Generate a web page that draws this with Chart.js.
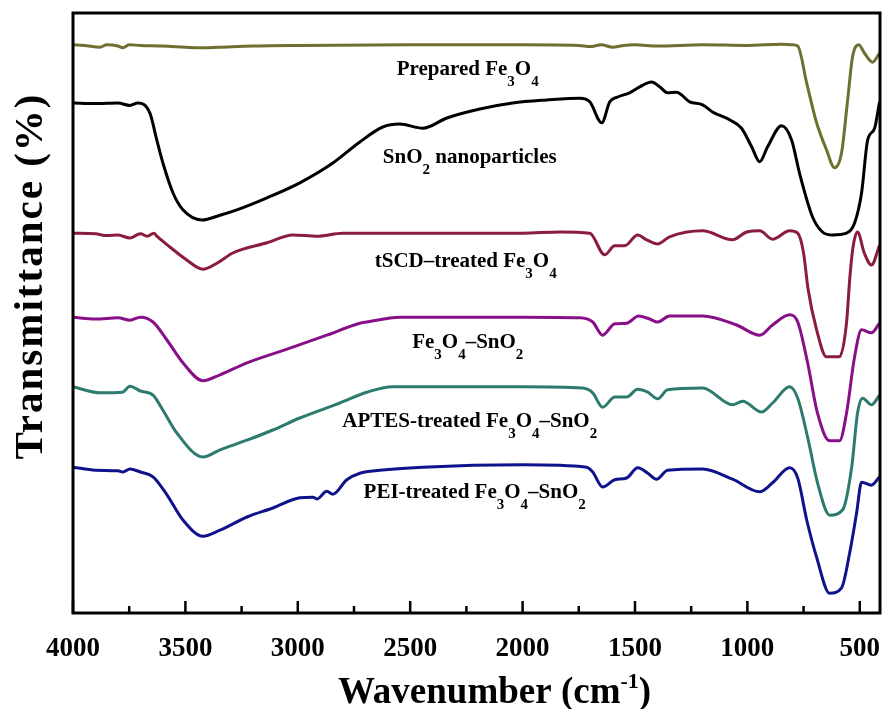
<!DOCTYPE html>
<html>
<head>
<meta charset="utf-8">
<script src="https://cdn.jsdelivr.net/npm/chart.js@4.4.1/dist/chart.umd.min.js"></script>
<style>
  html, body { margin: 0; padding: 0; background: #fff; }
  #wrap { width: 882px; height: 709px; }
</style>
</head>
<body>
<div id="wrap"><canvas id="ftir"></canvas></div>
<script>
// FTIR spectra, wavenumber (cm-1) vs transmittance (a.u., curves offset)
var preparedWn = [4000,3950,3880,3850,3800,3778,3750,3700,3600,3500,3435,3350,3200,3000,2500,2000,1750,1700,1650,1600,1550,1500,1400,1200,1000,850,800,776,736,692,648,612,581,554,532,505,479,443,412];
var preparedT  = [94.7,94.6,94.3,94.7,94.5,94.2,94.7,94.6,94.5,94.3,94.2,94.3,94.5,94.6,94.7,94.7,94.6,94.4,94.7,94.3,94.6,94.7,94.5,94.7,94.6,94.8,94.7,94.5,88.3,81.7,77.2,74.2,76.7,85.5,92.7,94.7,93.3,91.8,93.3];

var snoWn = [4000,3900,3800,3747,3711,3658,3627,3600,3555,3511,3426,3346,3271,3137,2991,2844,2724,2622,2546,2444,2337,2190,2044,1893,1746,1701,1648,1612,1577,1524,1479,1426,1390,1355,1315,1257,1199,1155,1079,1026,981,945,910,848,803,768,710,666,621,559,523,492,465,434,412];
var snoT  = [85.0,84.9,85.0,84.6,85.0,83.3,78.8,75.0,70.0,67.2,65.5,66.3,67.2,69.2,71.7,75.0,78.5,81.0,81.5,80.8,82.5,84.0,85.0,85.5,85.8,85.2,81.7,85.2,86.0,86.7,87.7,88.5,87.7,86.7,86.8,85.2,84.7,83.5,82.2,80.8,77.7,75.2,77.7,81.2,78.8,73.3,66.0,63.5,63.0,63.3,65.0,70.0,78.8,80.8,85.2];

var tscdWn = [4000,3900,3850,3800,3747,3700,3670,3640,3627,3569,3500,3422,3360,3289,3137,3022,2915,2800,2500,2000,1835,1701,1635,1590,1546,1488,1448,1399,1346,1199,1066,1003,945,888,812,776,750,730,692,648,620,590,559,545,530,510,480,448,412];
var tscdT  = [63.3,63.2,62.9,63.0,62.5,63.2,62.8,63.3,62.8,61.0,59.0,57.3,58.3,60.0,61.7,63.0,62.8,63.3,63.3,63.3,63.5,63.3,59.7,61.2,61.2,63.0,62.2,61.5,62.7,63.7,62.2,63.5,63.7,62.3,63.7,63.3,60.0,54.0,47.2,42.7,42.7,42.7,48.3,55.5,61.0,63.5,60.0,58.0,61.3];

var fesnWn = [4000,3900,3800,3747,3700,3644,3582,3511,3422,3346,3226,3022,2871,2724,2693,2546,2000,1746,1688,1644,1590,1537,1484,1435,1399,1346,1199,1048,945,888,812,776,732,688,634,590,559,523,492,448,412];
var fesnT  = [49.3,49.0,49.2,48.8,49.3,48.5,45.5,41.7,38.7,39.7,41.7,44.3,46.3,48.3,48.5,49.3,49.3,49.2,48.5,46.3,48.2,48.3,49.5,49.0,48.5,49.5,49.5,48.0,46.3,48.0,49.7,48.5,41.7,33.3,28.7,28.7,33.3,42.7,47.2,46.7,48.3];

var aptesWn = [4000,3880,3780,3747,3700,3644,3600,3538,3422,3346,3226,3111,2991,2871,2813,2693,2577,2000,1733,1688,1644,1590,1537,1488,1443,1399,1355,1199,1066,1021,937,888,812,776,732,688,634,576,536,510,487,448,412];
var aptesT  = [37.7,36.7,36.8,37.8,37.0,36.3,33.8,30.0,26.0,27.2,28.8,30.5,32.5,34.2,35.0,36.8,37.7,37.7,37.5,36.7,34.3,36.0,36.0,37.3,36.8,35.7,37.2,37.5,34.7,35.3,33.5,35.0,37.7,35.8,29.3,21.7,16.3,17.2,24.3,33.3,35.8,34.7,36.3];

var peiWn = [4000,3900,3800,3778,3747,3700,3644,3582,3511,3422,3346,3226,3111,2991,2933,2915,2871,2844,2782,2724,2635,2444,2000,1715,1688,1644,1590,1537,1488,1443,1404,1355,1199,1066,945,888,812,776,736,692,634,581,545,514,492,448,412];
var peiT  = [24.3,23.8,23.7,23.5,24.0,23.5,22.7,19.7,15.5,12.8,13.8,16.0,17.5,19.2,19.3,19.0,20.3,19.8,22.2,23.3,23.8,24.3,24.7,24.3,23.5,21.0,22.2,22.5,24.2,23.3,22.3,23.8,24.0,22.3,20.2,21.7,24.2,22.5,15.5,9.3,3.3,4.2,10.0,16.7,21.8,21.3,22.7];

// curve labels (_{..} = subscript), placed in data units
var labelText = ['Prepared Fe_{3}O_{4}', 'SnO_{2} nanoparticles', 'tSCD\u2013treated Fe_{3}O_{4}', 'Fe_{3}O_{4}\u2013SnO_{2}', 'APTES-treated Fe_{3}O_{4}\u2013SnO_{2}', 'PEI-treated Fe_{3}O_{4}\u2013SnO_{2}'];
var labelWn = [2244, 2235, 2253, 2244, 2235, 2213];
var labelT = [89.7, 75.0, 57.7, 44.2, 31.0, 19.2];

var tickVals = [4000,3750,3500,3250,3000,2750,2500,2250,2000,1750,1500,1250,1000,750,500];

var FONT = '"Liberation Serif", "Times New Roman", serif';

function pts(xs, ys) {
    var out = [];
    for (var i = 0; i < xs.length; i++) out.push({x: xs[i], y: ys[i]});
    return out;
}

function parseRich(str) {
    var parts = [], re = /([_^])\{([^}]*)\}/g, last = 0, m;
    while ((m = re.exec(str)) !== null) {
        if (m.index > last) parts.push({t: str.slice(last, m.index), k: 0});
        parts.push({t: m[2], k: m[1] == '_' ? 1 : -1});
        last = re.lastIndex;
    }
    if (last < str.length) parts.push({t: str.slice(last), k: 0});
    return parts;
}

// draws text with sub/superscripts, centred on cx
function drawRich(ctx, str, cx, base, size, small, dy) {
    var parts = parseRich(str), w = 0;
    parts.forEach(function(p){
        ctx.font = 'bold ' + (p.k ? small : size) + 'px ' + FONT;
        p.w = ctx.measureText(p.t).width;
        w += p.w;
    });
    var x = cx - w / 2;
    ctx.textAlign = 'left';
    ctx.textBaseline = 'alphabetic';
    parts.forEach(function(p){
        ctx.font = 'bold ' + (p.k ? small : size) + 'px ' + FONT;
        ctx.fillText(p.t, x, base + p.k * dy);
        x += p.w;
    });
}

var framePlugin = {
    id: 'frame',
    afterDraw: function(chart){
        var ctx = chart.ctx, a = chart.chartArea;
        var xs = chart.scales.x, ys = chart.scales.y;
        ctx.save();
        ctx.fillStyle = '#000';
        ctx.strokeStyle = '#000';

        // inside ticks on the bottom axis
        ctx.lineWidth = 2.5;
        tickVals.forEach(function(v){
            var px = xs.getPixelForValue(v);
            var len = (v % 500 == 0) ? 12 : 7;
            ctx.beginPath();
            ctx.moveTo(px, a.bottom);
            ctx.lineTo(px, a.bottom - len);
            ctx.stroke();
        });

        ctx.lineWidth = 3;
        ctx.strokeRect(a.left, a.top, a.right - a.left, a.bottom - a.top);

        // curve labels
        for (var i = 0; i < labelText.length; i++) {
            drawRich(ctx, labelText[i], xs.getPixelForValue(labelWn[i]), ys.getPixelForValue(labelT[i]), 21, 15, 11);
        }

        // x title
        drawRich(ctx, 'Wavenumber (cm^{-1})', (a.left + a.right) / 2 + 18, 703, 37, 22, 15);

        // y title
        ctx.translate(42, (a.top + a.bottom) / 2 - 37);
        ctx.rotate(-Math.PI / 2);
        ctx.font = 'bold 41px ' + FONT;
        ctx.letterSpacing = '2px';
        ctx.textAlign = 'center';
        ctx.textBaseline = 'alphabetic';
        ctx.fillText('Transmittance (%)', 0, 0);
        ctx.restore();
    }
};

var datasets = [
    {label: 'Prepared Fe3O4', data: pts(preparedWn, preparedT), borderColor: '#6f6f32'},
    {label: 'SnO2 nanoparticles', data: pts(snoWn, snoT), borderColor: '#000000'},
    {label: 'tSCD-treated Fe3O4', data: pts(tscdWn, tscdT), borderColor: '#8a1c3c'},
    {label: 'Fe3O4-SnO2', data: pts(fesnWn, fesnT), borderColor: '#870f87'},
    {label: 'APTES-treated Fe3O4-SnO2', data: pts(aptesWn, aptesT), borderColor: '#2d7a6e'},
    {label: 'PEI-treated Fe3O4-SnO2', data: pts(peiWn, peiT), borderColor: '#10128c'}
];

var mychart = new Chart(document.getElementById('ftir'), {
    type: 'line',
    data: {datasets: datasets},
    options: {
        responsive: true,
        maintainAspectRatio: false,
        animation: false,
        devicePixelRatio: 1,
        layout: {padding: {left: 73, right: 2, top: 13, bottom: 0}},
        plugins: {legend: {display: false}, tooltip: {enabled: false}},
        elements: {
            point: {radius: 0},
            line: {borderWidth: 3, cubicInterpolationMode: 'monotone', fill: false}
        },
        scales: {
            x: {
                type: 'linear', reverse: true, min: 410, max: 4000,
                afterBuildTicks: function(s){ s.ticks = tickVals.map(function(v){ return {value: v}; }); },
                afterFit: function(s){
                    s.height = 96;
                    s.paddingLeft = 0;
                    s.paddingRight = 0;
                },
                grid: {display: false},
                border: {display: false},
                ticks: {
                    autoSkip: false, maxRotation: 0, padding: 12, color: '#000',
                    font: {family: FONT, size: 27, weight: 'bold'},
                    callback: function(v){ return v % 500 == 0 ? String(v) : ''; }
                }
            },
            y: {display: false, min: 0, max: 100}
        }
    },
    plugins: [framePlugin]
});
</script>
</body>
</html>
